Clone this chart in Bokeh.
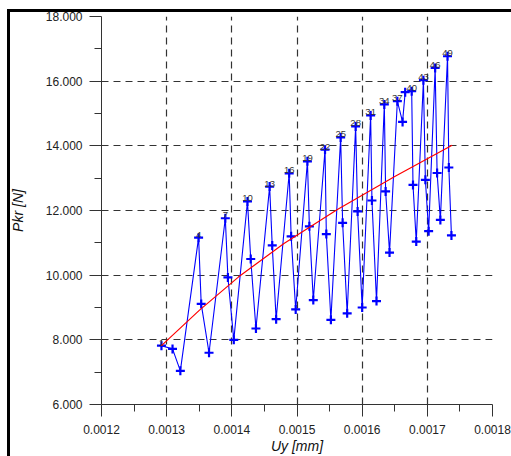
from bokeh.plotting import figure
from bokeh.models import Range1d, FixedTicker, NumeralTickFormatter, ColumnDataSource
from bokeh.embed import file_html
from bokeh.resources import INLINE
from bokeh.core.properties import value

# measured series (Uy in mm, Pkr in N), points 1..51
uy = [0.001292, 0.001309, 0.001321, 0.001349, 0.001353, 0.001365, 0.001390, 0.001394, 0.001403,
      0.001424, 0.001429, 0.001437, 0.001458, 0.001462, 0.001468, 0.001488, 0.001491, 0.001498,
      0.001516, 0.001519, 0.001525, 0.001543, 0.001545, 0.001552, 0.001567, 0.001570, 0.001577,
      0.001590, 0.001593, 0.001600, 0.001613, 0.001615, 0.001622, 0.001634, 0.001636, 0.001642,
      0.001654, 0.001662, 0.001666, 0.001676, 0.001678, 0.001683, 0.001694, 0.001697, 0.001702,
      0.001712, 0.001715, 0.001720, 0.001731, 0.001733, 0.001737]
pkr = [7.82, 7.72, 7.04, 11.16, 9.11, 7.60, 11.76, 9.93, 8.00,
       12.28, 10.50, 8.35, 12.74, 10.92, 8.64, 13.15, 11.20, 8.94,
       13.52, 11.51, 9.23, 13.88, 11.27, 8.62, 14.26, 11.62, 8.82,
       14.60, 11.97, 9.00, 14.94, 12.31, 9.20, 15.28, 12.59, 10.70,
       15.38, 14.74, 15.66, 15.69, 12.79, 11.04, 16.03, 12.95, 11.36,
       16.41, 13.16, 11.71, 16.77, 13.33, 11.23]
point_no = list(range(1, 52))
labelled_no = [1, 4, 7, 10, 13, 16, 19, 22, 25, 28, 31, 34, 37, 40, 43, 46, 49]

# fitted trend curve
fit_uy = [0.001292, 0.00135, 0.00141, 0.00148, 0.001562, 0.00165, 0.001738]
fit_pkr = [7.82, 8.91, 9.94, 10.98, 12.03, 13.05, 14.02]

x_ticks = [0.0012, 0.0013, 0.0014, 0.0015, 0.0016, 0.0017, 0.0018]
x_minor = [0.00125, 0.00135, 0.00145, 0.00155, 0.00165, 0.00175]
y_ticks = [6, 8, 10, 12, 14, 16, 18]
y_minor = [7, 9, 11, 13, 15, 17]

FONT = "Liberation Sans"

p = figure(width=511, height=456, x_range=Range1d(0.0012, 0.0018), y_range=Range1d(6, 18),
           output_backend="svg", toolbar_location=None,
           min_border_left=101, min_border_right=19, min_border_top=16, min_border_bottom=51)
p.outline_line_color = None
p.background_fill_color = "white"
p.border_fill_color = None
# thick black page frame along the left and top edges, painted behind the transparent canvas border
p.styles = {
    "background": ("linear-gradient(#000, #000) 7px 9px / 3px 447px no-repeat, "
                   "linear-gradient(#000, #000) 7px 9px / 504px 3px no-repeat, #ffffff"),
    "overflow": "hidden",
}

for ax, ticks, minor, fmt in ((p.xaxis[0], x_ticks, x_minor, "0.0000"), (p.yaxis[0], y_ticks, y_minor, "0.000")):
    ax.ticker = FixedTicker(ticks=ticks, minor_ticks=minor)
    ax.formatter = NumeralTickFormatter(format=fmt)
    ax.axis_line_color = "#333333"
    ax.major_tick_line_color = "#333333"
    ax.minor_tick_line_color = "#333333"
    ax.major_tick_in = 0
    ax.major_tick_out = 12
    ax.minor_tick_in = 0
    ax.minor_tick_out = 7
    ax.major_label_text_font = FONT
    ax.major_label_text_font_size = "12px"
    ax.major_label_text_color = "#222222"
    ax.axis_label_text_font = FONT
    ax.axis_label_text_font_size = "14px"
    ax.axis_label_text_font_style = "italic"
    ax.axis_label_text_color = "#111111"

p.xaxis.axis_label = "Uy [mm]"
p.yaxis.axis_label = "Pkr [N]"
p.xaxis.major_label_standoff = 8
p.xaxis.axis_label_standoff = 1
p.yaxis.major_label_standoff = 7
p.yaxis.axis_label_standoff = 17

for g in (p.xgrid[0], p.ygrid[0]):
    g.grid_line_color = "#333333"
    g.grid_line_dash = "7 5"
    g.grid_line_width = 1.2

src = ColumnDataSource(dict(x=uy, y=pkr, n=point_no))
p.line("x", "y", source=src, line_color="#0000ff", line_width=1.1)

lab = ColumnDataSource(dict(x=[uy[i - 1] for i in labelled_no],
                            y=[pkr[i - 1] for i in labelled_no],
                            t=[str(i) for i in labelled_no]))
p.scatter("x", "y", source=src, marker="cross", size=9, line_width=2.2, line_color="#0000ff")
p.text("x", "y", text="t", source=lab, text_font=value(FONT), text_font_size="9.5px",
       text_align="center", text_baseline="alphabetic", y_offset=-3, text_color="#333333")

p.line(fit_uy, fit_pkr, line_color="#ff0000", line_width=1.2)

open("out.html", "w").write(file_html(p, INLINE))
